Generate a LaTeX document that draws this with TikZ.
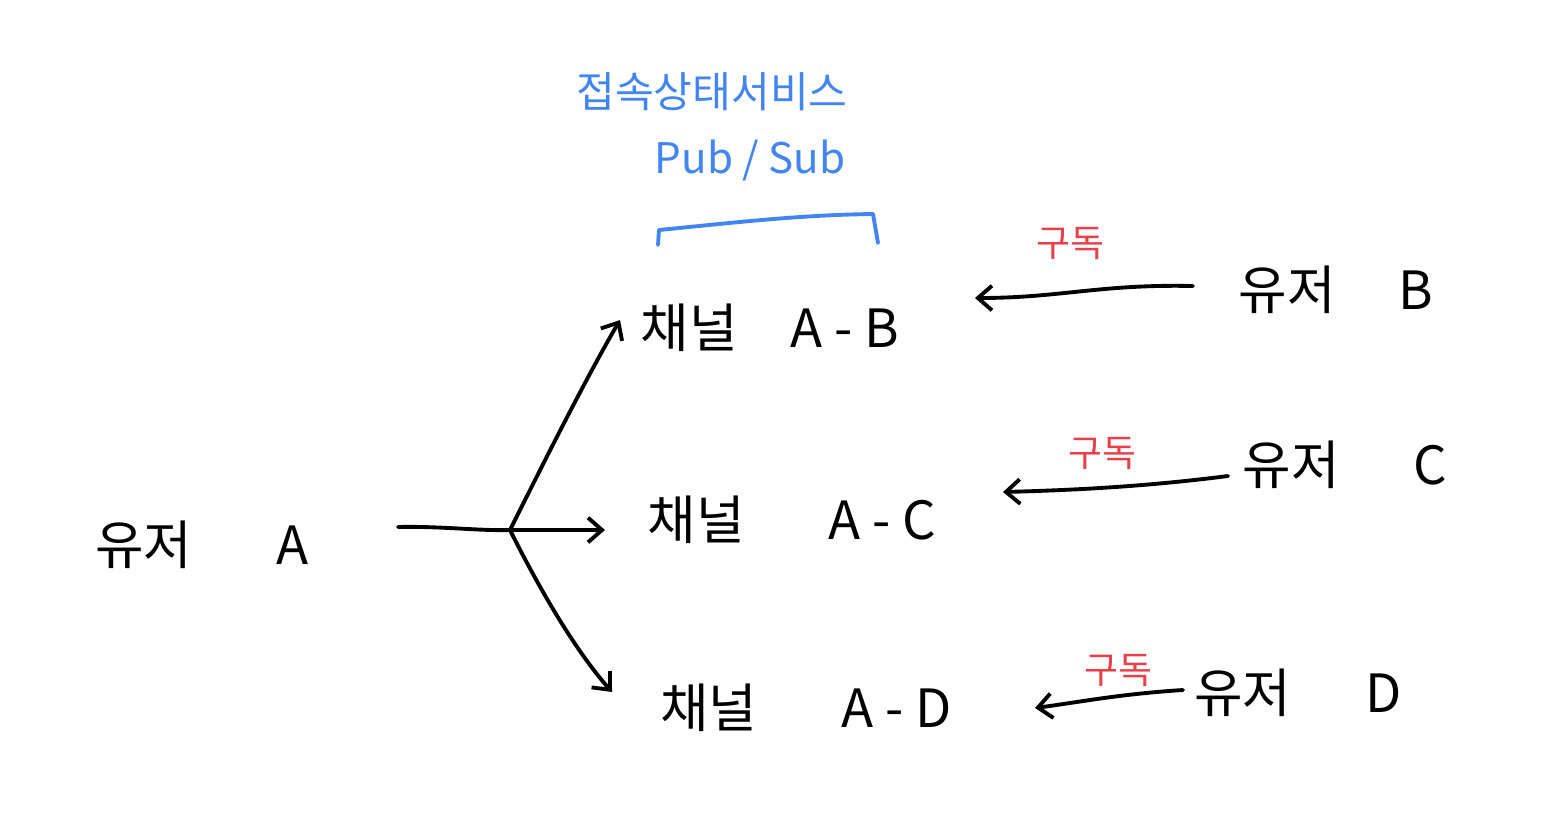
\documentclass[tikz,border=0pt]{standalone}
\usepackage{fontspec}
\setmainfont{Noto Sans CJK KR}
\usetikzlibrary{arrows.meta}
\definecolor{penblue}{RGB}{66,133,240}
\definecolor{penred}{RGB}{232,64,72}
\tikzset{
  lbl/.style={font=\fontsize{30}{36}\selectfont, inner sep=0pt},
  bluelbl/.style={font=\fontsize{24}{30}\selectfont, inner sep=0pt, text=penblue},
  redlbl/.style={font=\fontsize{21}{26}\selectfont, inner sep=0pt, text=penred},
  pen/.style={line width=2.2pt, line cap=round, line join=round},
  arr/.style={pen, -{Straight Barb[length=8pt,width=14pt,line width=2.2pt]}},
}
\begin{document}
\begin{tikzpicture}[x=0.02cm,y=-0.02cm]
\useasboundingbox (0,0) rectangle (1550,838);
% labels
\node[lbl] (ua) at (202,545) {유저\hspace{1.6em}A};
\node[lbl] (cab) at (770,328) {채널\hspace{1.0em}A - B};
\node[lbl] (cac) at (792,520) {채널\hspace{1.6em}A - C};
\node[lbl] (cad) at (806,708) {채널\hspace{1.6em}A - D};
\node[lbl] (ub) at (1336,290) {유저\hspace{1.2em}B};
\node[lbl] (uc) at (1345,465) {유저\hspace{1.4em}C};
\node[lbl] (ud) at (1298,693) {유저\hspace{1.4em}D};
\node[bluelbl] (title) at (712,92) {접속상태서비스};
\node[bluelbl] (ps) at (750,160) {Pub / Sub};
\node[redlbl] (s1) at (1070,243) {구독};
\node[redlbl] (s2) at (1102,453) {구독};
\node[redlbl] (s3) at (1118,670) {구독};
% bracket
\coordinate (bl) at (658,245);
\coordinate (br) at (878,243);
\draw[pen, penblue] (bl) -- (659,230) .. controls (740,222) and (800,215) .. (873,214) -- (br);
% fan-out from user A
\coordinate (ua-e) at (398,527);
\coordinate (br0) at (510,530);
\draw[pen] (ua-e) .. controls (440,526) and (480,531) .. (br0);
\draw[arr] (br0) .. controls (545,460) and (585,380) .. (620,320);
\draw[arr] (br0) -- (605,530);
\draw[arr] (br0) .. controls (540,590) and (575,650) .. (612,692);
% subscribe arrows
\coordinate (b-w) at (1193,286);
\coordinate (c-w) at (1228,476);
\coordinate (d-w) at (1183,690);
\coordinate (ab-e) at (975,298);
\coordinate (ac-e) at (1003,492);
\coordinate (ad-e) at (1035,708);
\draw[arr] (b-w) .. controls (1100,284) and (1060,298) .. (ab-e);
\draw[arr] (c-w) .. controls (1150,486) and (1080,490) .. (ac-e);
\draw[arr] (d-w) .. controls (1120,694) and (1080,702) .. (ad-e);
\end{tikzpicture}
\end{document}
